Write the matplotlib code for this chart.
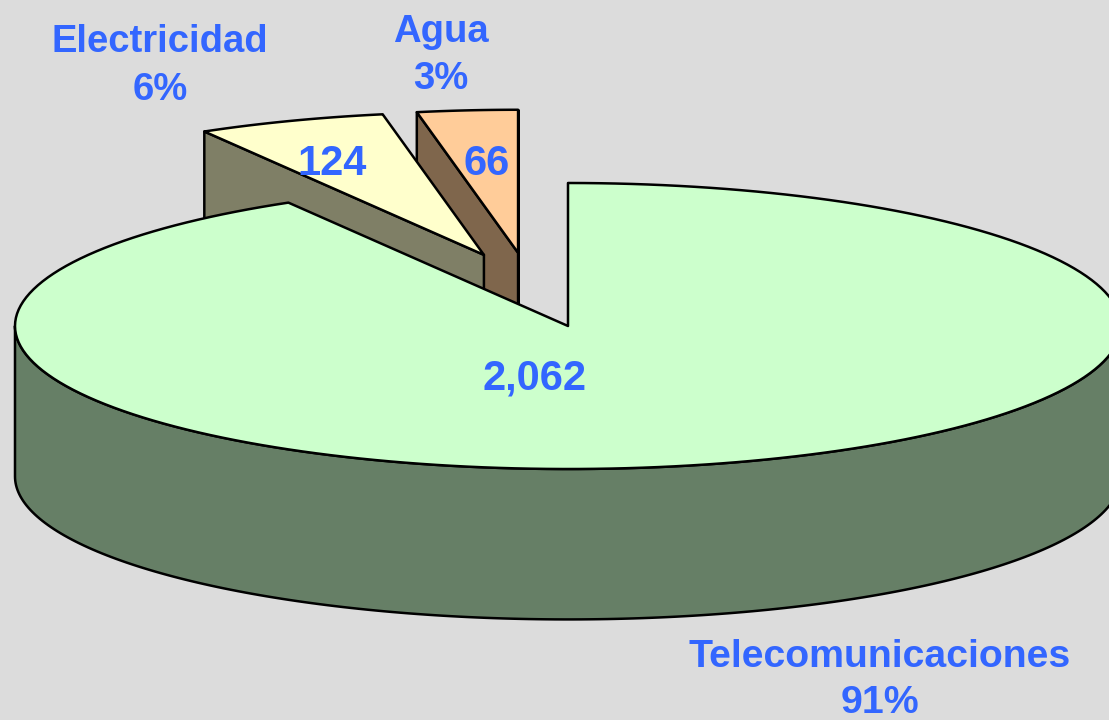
import numpy as np
import matplotlib.pyplot as plt
from matplotlib.patches import Polygon

# data
labels = ["Telecomunicaciones", "Electricidad", "Agua"]
values = [2062, 124, 66]
value_labels = ["2,062", "124", "66"]
pct_labels = ["91%", "6%", "3%"]

# style
top_colors = ["#ccffcc", "#ffffcc", "#ffcc99"]
side_colors = ["#667f66", "#7f7f66", "#7f664c"]
explode = [0.0, 0.52, 0.52]
explode_dir = [0.0, 107.0, 100.0]   # degrees
tilt = 0.2586      # y squash of the circle
depth = 0.272      # height of the pie
txt_col = "#3366ff"
font = "Liberation Sans"

W, H = 1109, 720
R = 553.0          # pixels per unit radius
cx, cy = 568.0, 326.0

fig = plt.figure(figsize=(W / 100, H / 100), dpi=100)
fig.patch.set_facecolor("#dcdcdc")
ax = fig.add_axes([0, 0, 1, 1])
ax.set_xlim(-cx / R, (W - cx) / R)
ax.set_ylim(-(H - cy) / R, cy / R)
ax.axis("off")


def pt(ox, oy, t, z=0.0, r=1.0):
    return (ox + r * np.cos(t), tilt * (oy + r * np.sin(t)) - z)


def arc(ox, oy, a, b, z=0.0, n=200):
    ts = np.linspace(a, b, n)
    return [pt(ox, oy, t, z) for t in ts]


total = float(sum(values))
start = 90.0
slices = []
for i, v in enumerate(values):
    hi = start
    lo = start - 360.0 * v / total
    start = lo
    slices.append((i, np.radians(lo), np.radians(hi)))

# back slices first (the exploded ones), then the big one
order = [2, 1, 0]
ec = "black"
lw = 1.8
for i in order:
    _, lo, hi = slices[i]
    d = np.radians(explode_dir[i])
    ox, oy = explode[i] * np.cos(d), explode[i] * np.sin(d)
    # radial faces
    for ang, vis in ((hi, np.cos(hi) < 1e-6), (lo, np.cos(lo) > -1e-6)):
        if vis:
            poly = [pt(ox, oy, 0, 0, 0), pt(ox, oy, ang), pt(ox, oy, ang, depth), pt(ox, oy, 0, depth, 0)]
            ax.add_patch(Polygon(poly, closed=True, fc=side_colors[i], ec=ec, lw=lw, joinstyle="round"))
    # front outer wall
    for n in range(-2, 3):
        a = max(lo, -np.pi + 2 * np.pi * n)
        b = min(hi, 2 * np.pi * n)
        if b > a:
            poly = arc(ox, oy, a, b) + arc(ox, oy, b, a, depth)
            ax.add_patch(Polygon(poly, closed=True, fc=side_colors[i], ec=ec, lw=lw, joinstyle="round"))
    # top face
    poly = [pt(ox, oy, 0, 0, 0)] + arc(ox, oy, lo, hi)
    ax.add_patch(Polygon(poly, closed=True, fc=top_colors[i], ec=ec, lw=lw, joinstyle="round"))


def ftext(x, y, s, size):
    fig.text(x / W, 1 - y / H, s, ha="center", va="baseline", color=txt_col,
             fontsize=size, fontweight="bold", family=font)


# value labels
val_pos = [(535, 390), (332, 175), (487, 175)]
for (x, y), s in zip(val_pos, value_labels):
    ftext(x, y, s, 30)

# category labels
cat_pos = [(880, 667, 713), (160, 52, 100), (441, 42, 89)]
cat_size = [28.3, 27.5, 27.5]
for (x, y1, y2), name, p, fs in zip(cat_pos, labels, pct_labels, cat_size):
    ftext(x, y1, name, fs)
    ftext(x, y2, p, fs)

fig.savefig("out.png", dpi=100, facecolor=fig.get_facecolor())
